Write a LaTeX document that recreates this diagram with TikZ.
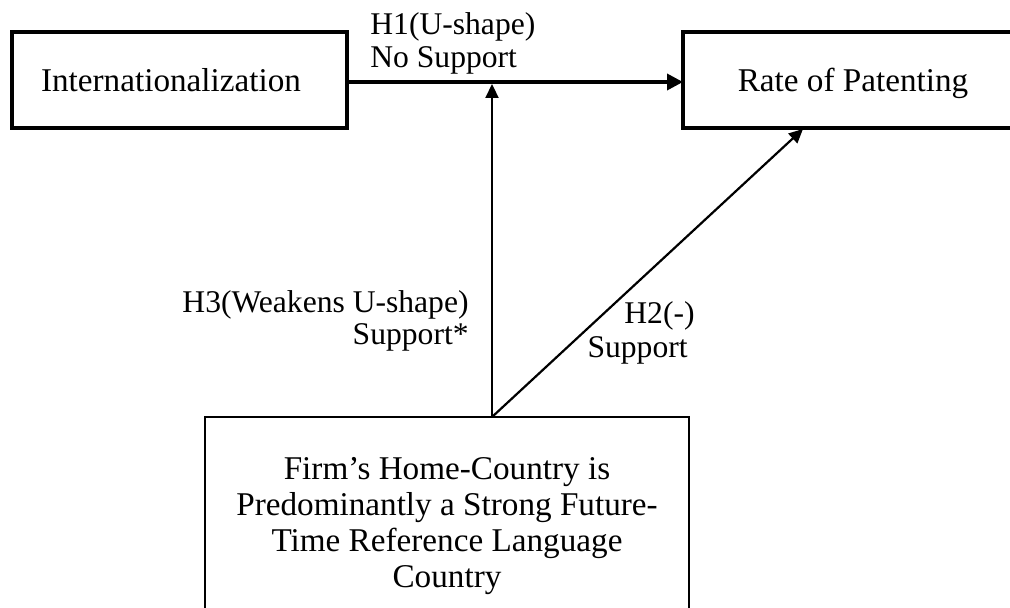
\documentclass[tikz,border=0pt]{standalone}
\usepackage{fontspec}
\setmainfont{Liberation Serif}
\usetikzlibrary{arrows.meta}
\tikzset{
  heavybox/.style={draw, line width=2.1pt},
  lightbox/.style={draw, line width=1.2pt},
  txt/.style={inner sep=0pt, font=\fontsize{16.6}{18.5}\selectfont},
  lbl/.style={inner sep=0pt, font=\fontsize{15.8}{17.5}\selectfont},
  mainarrow/.style={line width=1.8pt, -{Triangle[length=8pt,width=8pt]}},
  thinarrow/.style={line width=1.1pt, -{Triangle[length=7pt,width=6.5pt]}},
}
\begin{document}
\begin{tikzpicture}[x=0.5pt, y=-0.5pt]
\useasboundingbox (0,0) rectangle (1010,608);
% boxes
\draw[heavybox] (12,32) rectangle (347,128);
\coordinate (intlE) at (347,82);
\node[txt, anchor=base] (intl) at (171,92) {Internationalization};
\draw[heavybox] (683,32) rectangle (1025,128);
\coordinate (rateW) at (683,82);
\coordinate (rateS) at (803,129);
\node[txt, anchor=base] (rate) at (853,92) {Rate of Patenting};
\draw[lightbox] (205,417) rectangle (689,650);
\coordinate (homeN) at (492,417);
\node[txt, anchor=base] (h1) at (447,479) {Firm’s Home-Country is};
\node[txt, anchor=base] (h2) at (447,515) {Predominantly a Strong Future-};
\node[txt, anchor=base] (h3) at (447,551) {Time Reference Language};
\node[txt, anchor=base] (h4) at (447,587) {Country};
% connectors
\draw[mainarrow] (intlE) -- (rateW);
\coordinate (mid) at (492,84);
\draw[thinarrow] (homeN) -- (mid);
\draw[thinarrow] (homeN) -- (rateS);
% labels
\node[lbl, anchor=base west] (la) at (370,35) {H1(U-shape)};
\node[lbl, anchor=base west] (lb) at (370,68) {No Support};
\node[lbl, anchor=base east] (lc) at (469,313) {H3(Weakens U-shape)};
\node[lbl, anchor=base east] (ld) at (469,345) {Support*};
\node[lbl, anchor=base east] (le) at (695,324) {H2(-)};
\node[lbl, anchor=base east] (lf) at (688,358) {Support};
\end{tikzpicture}
\end{document}
